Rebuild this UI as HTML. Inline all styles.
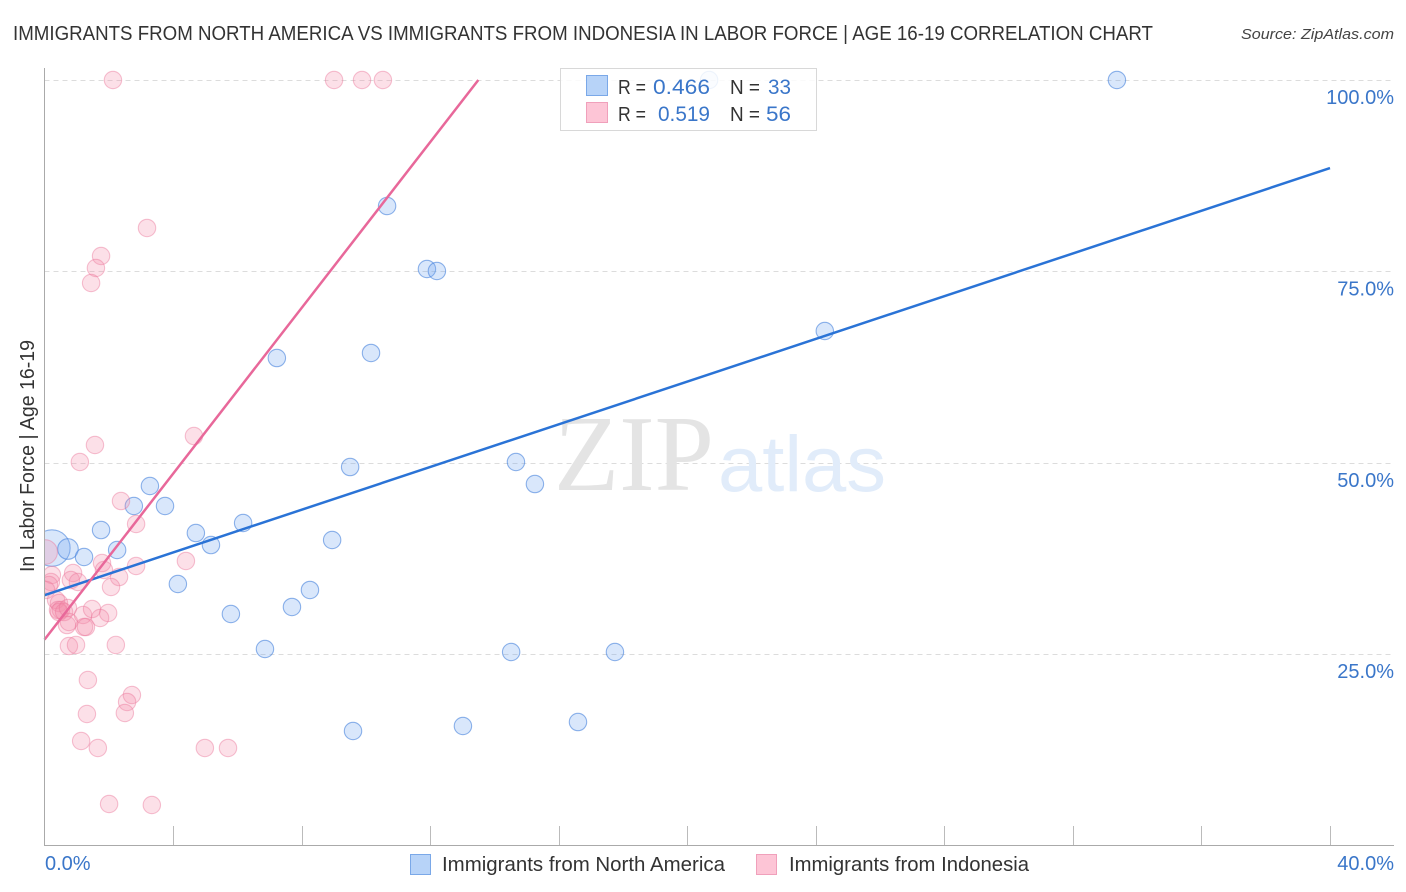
<!DOCTYPE html>
<html lang="en">
<head>
<meta charset="utf-8">
<title>Immigrants from North America vs Immigrants from Indonesia in Labor Force | Age 16-19 Correlation Chart</title>
<style>
html,body{margin:0;padding:0;background:#fff;width:1406px;height:892px;overflow:hidden}
svg{display:block;font-family:"Liberation Sans",sans-serif}
</style>
</head>
<body>
<svg id="chart" width="1406" height="892" viewBox="0 0 1406 892" xmlns="http://www.w3.org/2000/svg">
  <text x="13" y="40" font-size="20" fill="#333" textLength="1140" lengthAdjust="spacingAndGlyphs">IMMIGRANTS FROM NORTH AMERICA VS IMMIGRANTS FROM INDONESIA IN LABOR FORCE | AGE 16-19 CORRELATION CHART</text>
  <text x="1241" y="39" font-size="15" font-style="italic" fill="#444" textLength="153" lengthAdjust="spacingAndGlyphs">Source: ZipAtlas.com</text>
  <g id="grid"></g>
  <text x="554" y="490" font-family="'Liberation Serif',serif" font-size="108" fill="#e4e4e4" textLength="160" lengthAdjust="spacingAndGlyphs">ZIP</text>
  <text x="718" y="491" font-size="79" fill="#e1ecfa" textLength="168" lengthAdjust="spacingAndGlyphs">atlas</text>
  <g id="points"></g>
  <rect x="0" y="60" width="44.5" height="786" fill="#fff"/>
  <g id="trends"></g>
  <g id="axes"></g>
  <g id="labels"></g>
  <text transform="translate(34,572) rotate(-90)" font-size="20" fill="#333" textLength="232" lengthAdjust="spacingAndGlyphs">In Labor Force | Age 16-19</text>

  <g>
    <rect x="560.5" y="68.5" width="256" height="62" fill="#fff" fill-opacity="0.85" stroke="#d8d8d8"/>
    <rect x="586.5" y="75.5" width="21" height="20" fill="#b7d3f8" stroke="#7aa8e8"/>
    <text x="618" y="94" font-size="20" fill="#333" textLength="28" lengthAdjust="spacingAndGlyphs">R =</text>
    <text x="653" y="94" font-size="21" fill="#3a76c9" textLength="57" lengthAdjust="spacingAndGlyphs">0.466</text>
    <text x="730" y="94" font-size="20" fill="#333" textLength="30" lengthAdjust="spacingAndGlyphs">N =</text>
    <text x="768" y="94" font-size="21" fill="#3a76c9" textLength="23" lengthAdjust="spacingAndGlyphs">33</text>
    <rect x="586.5" y="102.5" width="21" height="20" fill="#fdc5d6" stroke="#f0a0bb"/>
    <text x="618" y="121" font-size="20" fill="#333" textLength="28" lengthAdjust="spacingAndGlyphs">R =</text>
    <text x="658" y="121" font-size="21" fill="#3a76c9" textLength="52" lengthAdjust="spacingAndGlyphs">0.519</text>
    <text x="730" y="121" font-size="20" fill="#333" textLength="30" lengthAdjust="spacingAndGlyphs">N =</text>
    <text x="766" y="121" font-size="21" fill="#3a76c9" textLength="25" lengthAdjust="spacingAndGlyphs">56</text>
  </g>

  <g>
    <rect x="410.5" y="854.5" width="20" height="20" fill="#b7d3f8" stroke="#7aa8e8"/>
    <text x="442" y="871" font-size="20" fill="#333" textLength="283" lengthAdjust="spacingAndGlyphs">Immigrants from North America</text>
    <rect x="756.5" y="854.5" width="20" height="20" fill="#fdc5d6" stroke="#f0a0bb"/>
    <text x="789" y="871" font-size="20" fill="#333" textLength="240" lengthAdjust="spacingAndGlyphs">Immigrants from Indonesia</text>
  </g>
</svg>
<script>
const blueX = [0.23,0.73,1.23,1.76,2.26,2.78,3.28,3.75,4.15,4.71,5.18,5.80,6.18,6.86,7.23,7.70,8.26,8.95,9.51,9.60,10.16,10.66,11.90,12.21,13.02,14.52,14.67,15.26,16.60,17.75,20.68,24.28,33.37];
const blueY = [38.86,38.73,37.69,41.21,38.60,44.35,46.96,44.35,34.16,40.82,39.25,30.24,42.13,25.67,63.68,31.16,33.38,39.91,49.44,14.96,64.34,83.54,75.31,75.05,15.61,25.28,50.10,47.22,16.13,25.28,100,67.21,100];
const blueWeight = [4.4,1.4,1,1,1,1,1,1,1,1,1,1,1,1,1,1,1,1,1,1,1,1,1,1,1,1,1,1,1,1,1,1,1];
const pinkX = [2.13,9.01,9.88,10.53,3.19,1.76,1.60,1.45,4.65,1.57,1.10,2.38,2.85,4.40,2.85,1.79,1.85,2.32,2.07,0.89,0.82,1.04,0.02,0.23,0.20,0.14,0.05,0.36,0.45,0.42,0.51,0.45,0.61,0.73,0.70,0.76,1.20,1.48,1.98,1.73,1.23,1.29,0.76,0.98,2.22,1.35,1.32,2.72,2.57,2.50,1.14,1.66,4.99,5.71,2.01,3.34];
const pinkY = [100,100,100,100,80.67,77.01,75.44,73.48,53.49,52.32,50.10,45.00,42.00,37.17,36.51,36.90,35.99,35.07,33.77,35.60,34.68,34.42,38.34,35.34,34.42,34.03,33.38,32.07,31.68,30.76,30.76,30.50,30.50,31.03,28.80,29.20,30.11,30.89,30.37,29.72,28.54,28.54,26.06,26.20,26.20,21.62,17.18,19.66,18.75,17.31,13.65,12.74,12.74,12.74,5.42,5.29];
const pinkWeight = [1,1,1,1,1,1,1,1,1,1,1,1,1,1,1,1,1,1,1,1,1,1,2,1,1,1,1,1,1,1,1,1,1,1,1,1,1,1,1,1,1,1,1,1,1,1,1,1,1,1,1,1,1,1,1,1];
const blueTrendX = [0,40];
const blueTrendY = [32.7,88.5];
const pinkTrendX = [0,13.5];
const pinkTrendY = [26.9,100];
const yTicks = [25,50,75,100];
const yTickLabels = ["25.0%","50.0%","75.0%","100.0%"];
const xTicks = [0,4,8,12,16,20,24,28,32,36,40];
const xEndLabels = ["0.0%","40.0%"];

const NS = 'http://www.w3.org/2000/svg';
const xScale = v => 44.5 + v * (1330 - 44.5) / 40;
const yScale = v => 845.5 - v * (845.5 - 80) / 100;
const rScale = w => 8.7 * Math.sqrt(w);
function mk(tag, parent, attrs) {
  const el = document.createElementNS(NS, tag);
  for (const k in attrs) el.setAttribute(k, attrs[k]);
  parent.appendChild(el);
  return el;
}
const grid = document.getElementById('grid');
const axes = document.getElementById('axes');
const pts = document.getElementById('points');
const trends = document.getElementById('trends');
const labels = document.getElementById('labels');

yTicks.forEach((t, i) => {
  const y = Math.round(yScale(t)) + 0.5;
  const g = mk('line', grid, {x1: 44.5, x2: 1394, y1: y, y2: y, stroke: '#dcdcdc', 'stroke-width': 1, 'stroke-dasharray': '5 4'});
  
  
  const l = mk('text', labels, {x: 1394, y: yScale(t) + 24, 'text-anchor': 'end', 'font-size': 20, fill: '#3a76c9'});
  l.textContent = yTickLabels[i];
  
  
});

const yAxis = mk('line', axes, {x1: 44.5, x2: 44.5, y1: 68, y2: 846, stroke: '#aaa', 'stroke-width': 1});


const xAxis = mk('line', axes, {x1: 44, x2: 1394, y1: 845.5, y2: 845.5, stroke: '#aaa', 'stroke-width': 1});


xTicks.slice(1).forEach(t => {
  const x = Math.round(xScale(t)) + 0.5;
  const m = mk('line', axes, {x1: x, x2: x, y1: 826, y2: 845, stroke: '#bbb', 'stroke-width': 1});
  
  
});

const x0 = mk('text', labels, {x: 45, y: 870, 'font-size': 20, fill: '#3a76c9'});
x0.textContent = xEndLabels[0];


const x1 = mk('text', labels, {x: 1394, y: 870, 'text-anchor': 'end', 'font-size': 20, fill: '#3a76c9'});
x1.textContent = xEndLabels[1];



blueX.forEach((v, i) => {
  const c = mk('circle', pts, {cx: xScale(v), cy: yScale(blueY[i]), r: rScale(blueWeight[i]), fill: 'rgba(120,170,240,0.28)', stroke: 'rgba(70,130,220,0.6)', 'stroke-width': 1.1});
  
  
});
pinkX.forEach((v, i) => {
  const c = mk('circle', pts, {cx: xScale(v), cy: yScale(pinkY[i]), r: rScale(pinkWeight[i]), fill: 'rgba(245,140,170,0.27)', stroke: 'rgba(235,120,155,0.45)', 'stroke-width': 1.1});
  
  
});

const blueLine = mk('line', trends, {x1: xScale(blueTrendX[0]), y1: yScale(blueTrendY[0]), x2: xScale(blueTrendX[1]), y2: yScale(blueTrendY[1]), stroke: '#2a73d6', 'stroke-width': 2.5});


const pinkLine = mk('line', trends, {x1: xScale(pinkTrendX[0]), y1: yScale(pinkTrendY[0]), x2: xScale(pinkTrendX[1]), y2: yScale(pinkTrendY[1]), stroke: '#e8689a', 'stroke-width': 2.5});


</script>
</body>
</html>
